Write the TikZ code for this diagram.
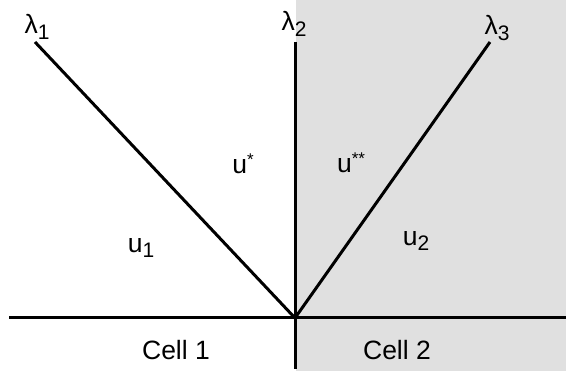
\documentclass[tikz,border=0pt]{standalone}
\usepackage{fontspec}
\setmainfont{Liberation Sans}
\usepackage{tikz}
\usetikzlibrary{positioning, calc}

\definecolor{cellgray}{HTML}{E0E0E0}
\newcommand{\lowidx}[1]{\raisebox{-0.4ex}{\fontsize{21}{21}\selectfont #1}}
\newcommand{\highidx}[1]{\raisebox{0.55ex}{\fontsize{17}{17}\selectfont #1}}

\begin{document}
\begin{tikzpicture}[
        x=1pt, y=-1pt,
        wave/.style={line width=3pt},
        txt/.style={font=\fontsize{26.5}{28}\selectfont, inner sep=0pt}
    ]
    \useasboundingbox (0, 0) rectangle (566, 371);

    % Cell 2 background
    \fill[cellgray] (296, 0) rectangle (566, 371);

    % Wave fan
    \coordinate (O) at (295, 318);
    \coordinate (top1) at (35, 42);
    \coordinate (top2) at (295, 42);
    \coordinate (top3) at (490, 42);
    \coordinate (left) at (9, 318);
    \coordinate (right) at (566, 318);
    \coordinate (bottom) at (295, 369);

    \draw[wave] (left) -- (right);
    \draw[wave] (top2) -- (bottom);
    \draw[wave] (top1) -- (O);
    \draw[wave] (top3) -- (O);

    % Wave labels
    \node[txt] (lam1) at (37, 27) {λ\lowidx{1}};
    \node[txt] (lam2) at (294, 24) {λ\lowidx{2}};
    \node[txt] (lam3) at (497, 28) {λ\lowidx{3}};

    % States
    \node[txt] (ustar) at (243, 164) {u\highidx{*}};
    \node[txt] (ustarstar) at (351, 163) {u\highidx{**}};
    \node[txt] (u1) at (141, 248) {u\lowidx{1}};
    \node[txt] (u2) at (416, 241) {u\lowidx{2}};

    % Cells
    \node[txt] (cell1) at (176, 350) {Cell 1};
    \node[txt] (cell2) at (397, 350) {Cell 2};
\end{tikzpicture}
\end{document}
